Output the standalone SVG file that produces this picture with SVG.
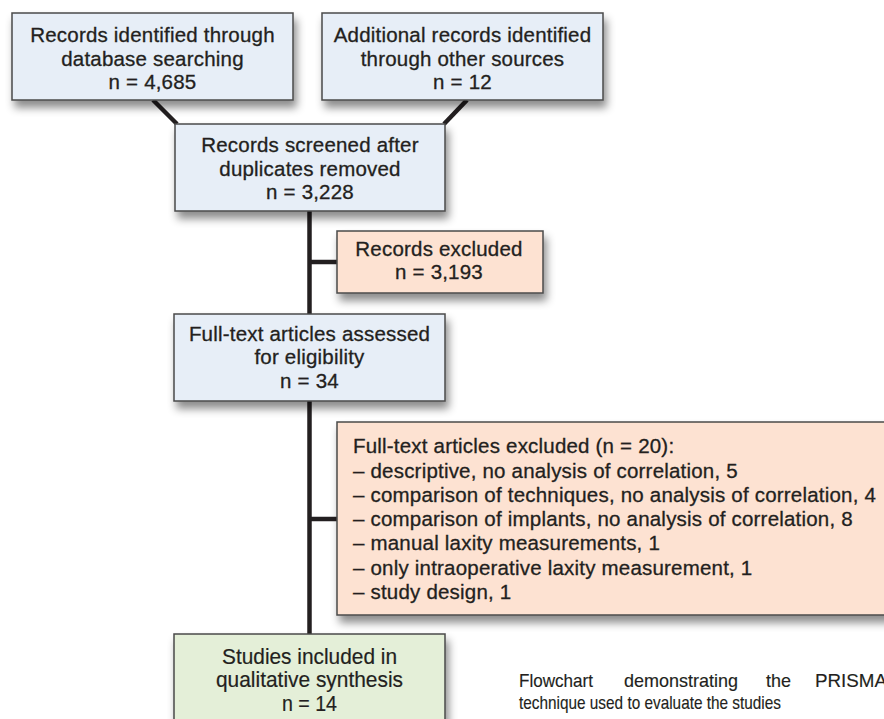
<svg xmlns="http://www.w3.org/2000/svg" width="884" height="719" viewBox="0 0 884 719">
  <defs>
    <filter id="sh" x="-10%" y="-20%" width="125%" height="160%">
      <feDropShadow dx="3" dy="7" stdDeviation="4" flood-color="#000" flood-opacity="0.45"/>
    </filter>
    <style>
      .box { stroke: #4a4a4a; stroke-width: 1.5; filter: url(#sh); }
      .blue { fill: #e7eef7; }
      .pink { fill: #fde2d2; }
      .green { fill: #e4efd8; }
      .t { font-family: "Liberation Sans", Arial, sans-serif; font-size: 20.5px; letter-spacing: 0.2px; fill: #231f20; stroke: #231f20; stroke-width: 0.3px; text-anchor: middle; }
      .l { text-anchor: start; }
      .c { font-family: "Liberation Sans", Arial, sans-serif; font-size: 22px; fill: #231f20; stroke: #231f20; stroke-width: 0.2px; }
      .cap { font-family: "Liberation Sans", Arial, sans-serif; font-size: 19px; fill: #231f20; stroke: #231f20; stroke-width: 0.15px; }
      .con { stroke: #231f20; stroke-width: 4.5; fill: none; }
    </style>
  </defs>
  <rect width="884" height="719" fill="#ffffff"/>

  <g id="connectors">
    <line class="con" x1="153" y1="100" x2="177" y2="124"/>
    <line class="con" x1="467" y1="100" x2="444" y2="124"/>
    <line class="con" x1="309.5" y1="211" x2="309.5" y2="634"/>
    <line class="con" x1="309.5" y1="262" x2="337" y2="262"/>
    <line class="con" x1="309.5" y1="519" x2="337" y2="519"/>
  </g>

  <g id="db-search">
    <rect class="box blue" x="12" y="13" width="281" height="87"/>
    <text class="t" x="152.5" y="42">Records identified through</text>
    <text class="t" x="152.5" y="66">database searching</text>
    <text class="t" x="152.5" y="89">n = 4,685</text>
  </g>

  <g id="other-sources">
    <rect class="box blue" x="322" y="13" width="281" height="87"/>
    <text class="t" x="462.5" y="42">Additional records identified</text>
    <text class="t" x="462.5" y="66">through other sources</text>
    <text class="t" x="462.5" y="89">n = 12</text>
  </g>

  <g id="screened">
    <rect class="box blue" x="175" y="124" width="270" height="87"/>
    <text class="t" x="310" y="152">Records screened after</text>
    <text class="t" x="310" y="176">duplicates removed</text>
    <text class="t" x="310" y="199">n = 3,228</text>
  </g>

  <g id="records-excluded">
    <rect class="box pink" x="337" y="231" width="206" height="62"/>
    <text class="t" x="439" y="256">Records excluded</text>
    <text class="t" x="439" y="279">n = 3,193</text>
  </g>

  <g id="assessed">
    <rect class="box blue" x="174" y="314" width="271" height="87"/>
    <text class="t" x="309.5" y="341">Full-text articles assessed</text>
    <text class="t" x="309.5" y="364">for eligibility</text>
    <text class="t" x="309.5" y="388">n = 34</text>
  </g>

  <g id="fulltext-excluded">
    <rect class="box pink" x="337" y="422" width="560" height="193"/>
    <text class="t l" x="353" y="453">Full-text articles excluded (n = 20):</text>
    <text class="t l" x="353" y="478">– descriptive, no analysis of correlation, 5</text>
    <text class="t l" x="353" y="502">– comparison of techniques, no analysis of correlation, 4</text>
    <text class="t l" x="353" y="526">– comparison of implants, no analysis of correlation, 8</text>
    <text class="t l" x="353" y="550">– manual laxity measurements, 1</text>
    <text class="t l" x="353" y="575">– only intraoperative laxity measurement, 1</text>
    <text class="t l" x="353" y="599">– study design, 1</text>
  </g>

  <g id="included">
    <rect class="box green" x="174" y="634" width="271" height="100"/>
    <text class="c" x="222" y="664" textLength="175" lengthAdjust="spacingAndGlyphs">Studies included in</text>
    <text class="c" x="216" y="687" textLength="187" lengthAdjust="spacingAndGlyphs">qualitative synthesis</text>
    <text class="c" x="282" y="711" textLength="55" lengthAdjust="spacingAndGlyphs">n = 14</text>
  </g>

  <g id="caption">
    <text class="cap" x="519" y="687" textLength="74" lengthAdjust="spacingAndGlyphs">Flowchart</text>
    <text class="cap" x="624" y="687" textLength="114" lengthAdjust="spacingAndGlyphs">demonstrating</text>
    <text class="cap" x="766" y="687" textLength="25" lengthAdjust="spacingAndGlyphs">the</text>
    <text class="cap" x="815" y="687" textLength="72" lengthAdjust="spacingAndGlyphs">PRISMA</text>
    <text class="cap" x="519" y="709" textLength="262" lengthAdjust="spacingAndGlyphs">technique used to evaluate the studies</text>
  </g>
</svg>
